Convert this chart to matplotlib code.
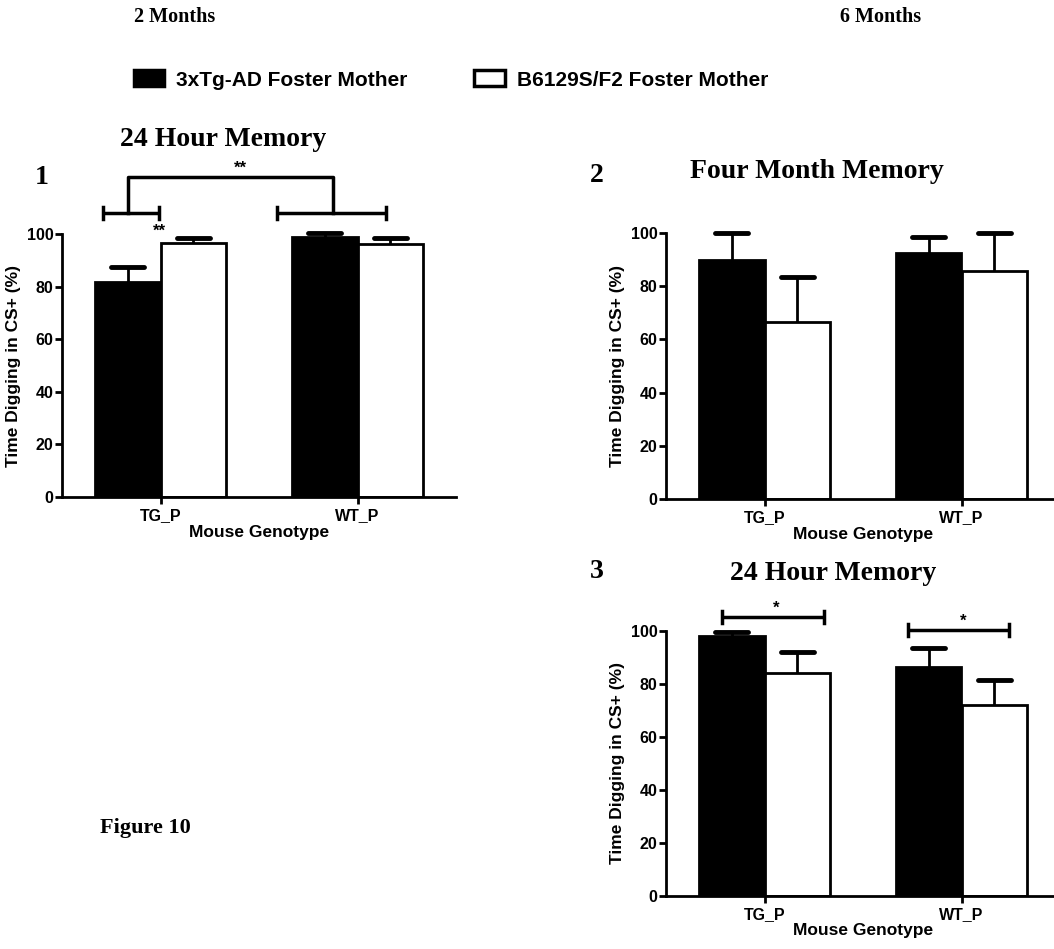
import matplotlib
matplotlib.use('Agg')
import matplotlib.pyplot as plt
from matplotlib.patches import Patch
import numpy as np

# data
groups = ['TG_P', 'WT_P']
series = ['3xTg-AD Foster Mother', 'B6129S/F2 Foster Mother']

#panel 1: 2 months, 24 hour memory
p1_black = [81.7, 98.9]
p1_black_err = [5.8, 1.5]
p1_white = [96.6, 96.2]
p1_white_err = [1.9, 2.3]

#panel 2: 6 months, four month memory
p2_black = [90.0, 92.5]
p2_black_err = [10.0, 6.0]
p2_white = [66.5, 85.7]
p2_white_err = [16.8, 14.3]

#panel 3: 6 months, 24 hour memory
p3_black = [98.1, 86.4]
p3_black_err = [1.5, 7.2]
p3_white = [84.2, 72.1]
p3_white_err = [7.9, 9.4]

yticks = [0, 20, 40, 60, 80, 100]

W, H = 1054, 949
sans = 'Liberation Sans'
serif = 'Liberation Serif'

plt.rcParams['font.family'] = sans
plt.rcParams['font.weight'] = 'bold'


#convert pixel position to figure fraction
def px(x, y):
    return x / W, 1 - y / H


#pixel box to axes rect
def rect(left, top, right, bottom):
    return [left / W, 1 - bottom / H, (right - left) / W, (bottom - top) / H]


#draws one bar panel
def draw_panel(ax, black, black_err, white, white_err):
    x = np.arange(len(groups)) * 3.0
    ax.bar(x - 0.5, black, width=1, color='black', edgecolor='black', linewidth=2, zorder=2)
    ax.bar(x + 0.5, white, width=1, color='white', edgecolor='black', linewidth=2, zorder=2)

    #upward error bars only
    for xs, vals, errs in [(x - 0.5, black, black_err), (x + 0.5, white, white_err)]:
        tops = np.array(vals) + np.array(errs)
        ax.vlines(xs, vals, tops, color='black', linewidth=2, zorder=3, clip_on=False)
        ax.hlines(tops, xs - 0.25, xs + 0.25, color='black', linewidth=3.5,
                  capstyle='round', zorder=3, clip_on=False)

    ax.set_xlim(-1.5, 4.5)
    ax.set_ylim(0, 100)
    ax.set_xticks(x)
    ax.set_xticklabels(groups, fontsize=11.5, fontweight='bold')
    ax.set_yticks(yticks)
    ax.set_yticklabels([str(t) for t in yticks], fontsize=11.5, fontweight='bold')
    ax.tick_params(axis='both', direction='out', length=5, width=2, pad=1)
    ax.tick_params(axis='x', pad=3)
    for s in ['top', 'right']:
        ax.spines[s].set_visible(False)
    for s in ['left', 'bottom']:
        ax.spines[s].set_linewidth(2)
    ax.set_ylabel('Time Digging in CS+ (%)', fontsize=12.5, fontweight='bold', labelpad=4)
    ax.set_xlabel('Mouse Genotype', fontsize=12.5, fontweight='bold', labelpad=1)


#bracket with end ticks
def bracket(ax, x0, x1, y, tick=2.3):
    ax.plot([x0, x1], [y, y], color='black', lw=2.5, clip_on=False, solid_capstyle='butt')
    ax.plot([x0, x0], [y - tick, y + tick], color='black', lw=2.5, clip_on=False)
    ax.plot([x1, x1], [y - tick, y + tick], color='black', lw=2.5, clip_on=False)


fig = plt.figure(figsize=(W / 100, H / 100), dpi=100)

ax1 = fig.add_axes(rect(62, 234, 456, 497))
ax2 = fig.add_axes(rect(666, 233, 1060, 499))
ax3 = fig.add_axes(rect(666, 631, 1060, 896))

draw_panel(ax1, p1_black, p1_black_err, p1_white, p1_white_err)
draw_panel(ax2, p2_black, p2_black_err, p2_white, p2_white_err)
draw_panel(ax3, p3_black, p3_black_err, p3_white, p3_white_err)

#significance marks panel 1
bracket(ax1, -0.88, -0.03, 108)
bracket(ax1, 1.77, 3.44, 108)
ax1.plot([-0.49, -0.49, 2.62, 2.62], [108, 121.7, 121.7, 108], color='black', lw=2.5,
         clip_on=False)
ax1.text(1.22, 122.3, '**', ha='center', va='bottom', fontsize=12, fontweight='bold')
ax1.text(-0.02, 98.3, '**', ha='center', va='bottom', fontsize=12, fontweight='bold')

#significance marks panel 3
bracket(ax3, -0.64, 0.9, 105.3)
ax3.text(0.18, 105.8, '*', ha='center', va='bottom', fontsize=12, fontweight='bold')
bracket(ax3, 2.18, 3.72, 100.3)
ax3.text(3.03, 100.8, '*', ha='center', va='bottom', fontsize=12, fontweight='bold')

#headers and titles
tkw = dict(family=serif, fontweight='bold', ha='center', va='center')
fig.text(*px(175, 17), '2 Months', fontsize=14.5, **tkw)
fig.text(*px(881, 17), '6 Months', fontsize=14.5, **tkw)
fig.text(*px(223, 139), '24 Hour Memory', fontsize=20, **tkw)
fig.text(*px(817, 171), 'Four Month Memory', fontsize=20, **tkw)
fig.text(*px(833, 574), '24 Hour Memory', fontsize=20, **tkw)
fig.text(*px(42, 177), '1', fontsize=20, **tkw)
fig.text(*px(597, 175), '2', fontsize=20, **tkw)
fig.text(*px(597, 571), '3', fontsize=20, **tkw)
fig.text(*px(100, 828), 'Figure 10', family=serif, fontweight='bold', fontsize=16,
         ha='left', va='center')

handles = [Patch(facecolor='black', edgecolor='black', linewidth=2.5),
           Patch(facecolor='white', edgecolor='black', linewidth=2.5)]
fig.legend(handles, series, loc='center', bbox_to_anchor=px(451, 80), ncol=2,
           frameon=False, prop={'family': sans, 'weight': 'bold', 'size': 15},
           handlelength=1.45, handleheight=0.8, handletextpad=0.6, columnspacing=3.2)

fig.savefig('out.png', dpi=100)
